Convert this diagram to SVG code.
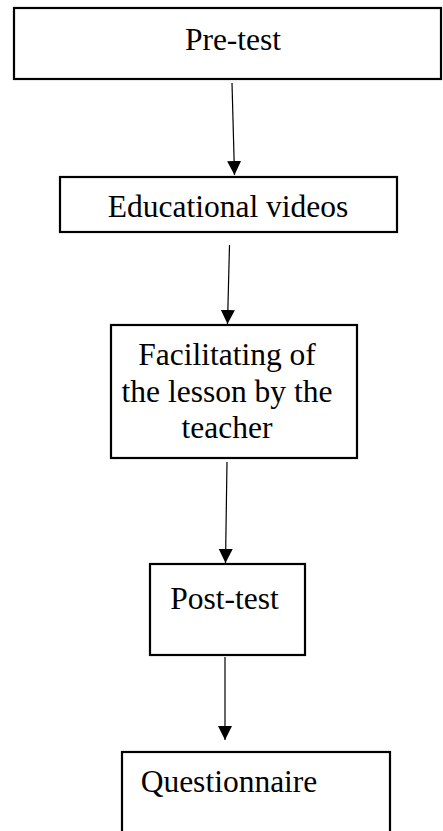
<svg xmlns="http://www.w3.org/2000/svg" width="443" height="831" viewBox="0 0 443 831">
<style>
.box{fill:#fff;stroke:#000;stroke-width:2.2}
.lbl{font-family:"Liberation Serif","Times New Roman",serif;font-size:31.5px;fill:#000;text-anchor:middle}
.conn{stroke:#000;stroke-width:1.2;fill:none}
</style>
<defs>
<marker id="ah" markerUnits="userSpaceOnUse" markerWidth="14" markerHeight="16" refX="14" refY="7" orient="auto">
<path d="M0,0 L14,7 L0,14 Z" fill="#000"/>
</marker>
</defs>
<rect width="443" height="831" fill="#fff"/>
<g id="n1"><rect class="box" x="14" y="8" width="427" height="71"/><text class="lbl" x="233" y="50">Pre-test</text></g>
<g id="n2"><rect class="box" x="60" y="177" width="337" height="55"/><text class="lbl" x="228" y="217">Educational videos</text></g>
<g id="n3"><rect class="box" x="111" y="325" width="246" height="133"/><text class="lbl" x="227" y="365">Facilitating of</text><text class="lbl" x="227" y="402">the lesson by the</text><text class="lbl" x="227" y="438">teacher</text></g>
<g id="n4"><rect class="box" x="150" y="564" width="155" height="91"/><text class="lbl" x="224.5" y="609">Post-test</text></g>
<g id="n5"><rect class="box" x="122" y="752" width="268" height="90"/><text class="lbl" x="229" y="792">Questionnaire</text></g>
<g id="connectors">
<line class="conn" x1="232" y1="83" x2="234.5" y2="175" marker-end="url(#ah)"/>
<line class="conn" x1="229.5" y1="245" x2="227.5" y2="324" marker-end="url(#ah)"/>
<line class="conn" x1="227" y1="462" x2="225.5" y2="563" marker-end="url(#ah)"/>
<line class="conn" x1="225" y1="657" x2="225" y2="740" marker-end="url(#ah)"/>
</g>
</svg>
